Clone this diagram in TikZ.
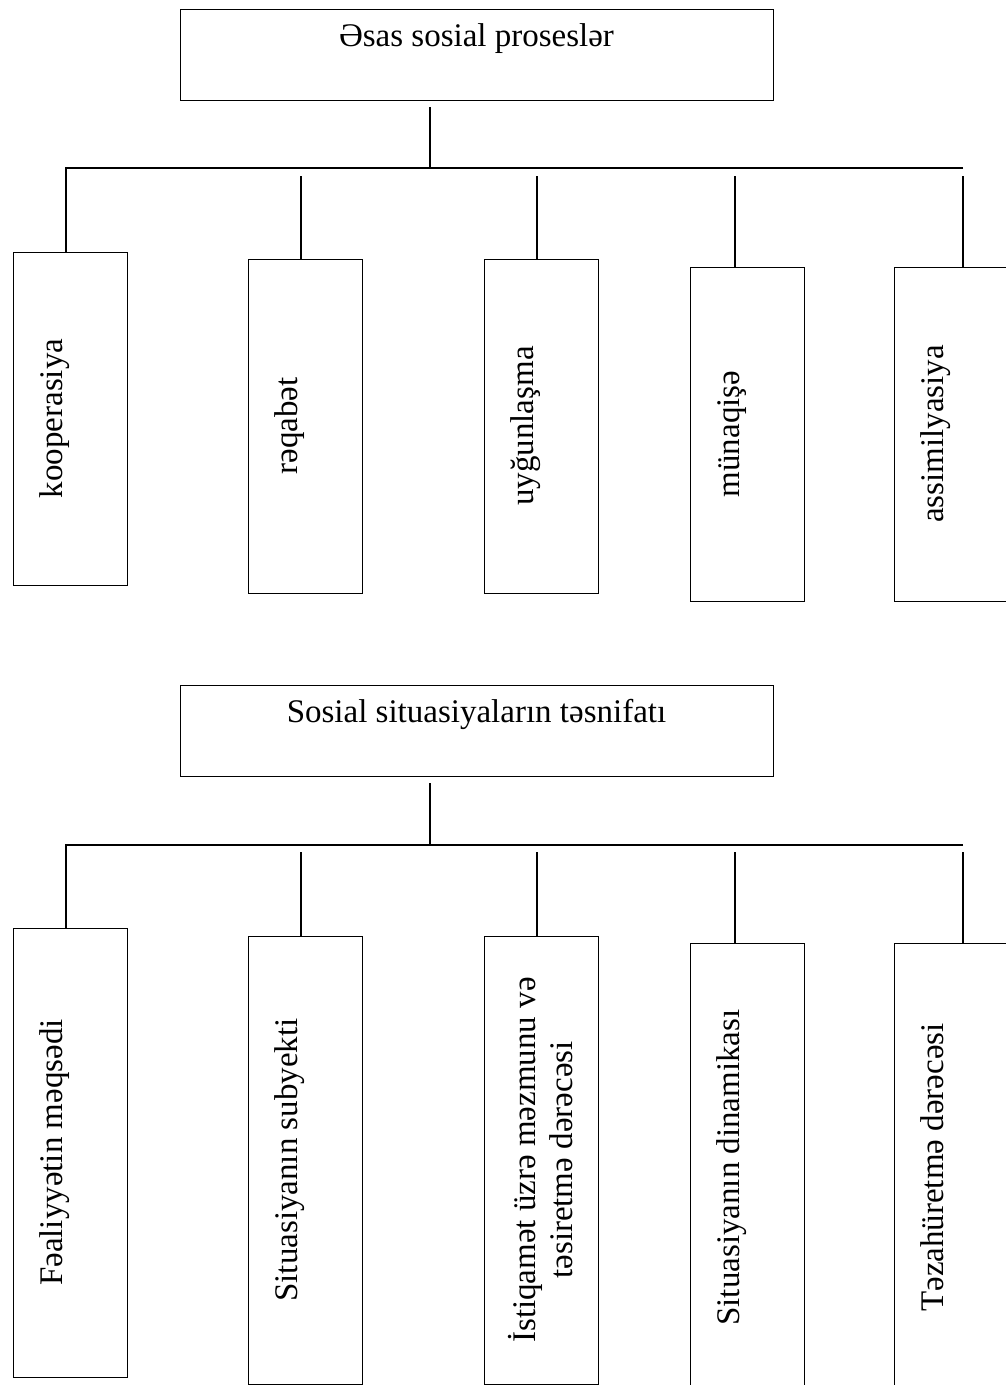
\documentclass[tikz,border=0pt]{standalone}
\usepackage{fontspec}
\setmainfont{Liberation Serif}
\begin{document}
\begin{tikzpicture}[x=1pt,y=-1pt,
  ln/.style={line width=1.2pt},
  box/.style={draw, line width=1.2pt, inner sep=0pt, minimum width=114pt, anchor=north west},
  headbox/.style={draw, line width=1.2pt, inner sep=0pt, minimum width=593pt, minimum height=91pt, anchor=north west},
  htext/.style={anchor=base, inner sep=0pt, font=\fontsize{33}{37}\selectfont},
  vtext/.style={rotate=90, anchor=base, inner sep=0pt, font=\fontsize{33}{37}\selectfont},
  vtwo/.style={rotate=90, anchor=north, inner sep=0pt, align=center, font=\fontsize{33}{37}\selectfont}]
\useasboundingbox (0,0) rectangle (1006,1385);
\clip (0,0) rectangle (1006,1385);

% ---------- upper diagram ----------
\node[headbox] (h1) at (180,9) {};
\node[htext] (h1t) at (476.5,46) {Əsas sosial proseslər};

\node[box, minimum height=333pt] (a1) at (13,252) {};
\node[box, minimum height=334pt] (a2) at (248,259) {};
\node[box, minimum height=334pt] (a3) at (484,259) {};
\node[box, minimum height=334pt] (a4) at (690,267) {};
\node[box, minimum height=334pt] (a5) at (894,267) {};

\node[vtext] (a1t) at (62,418.5) {kooperasiya};
\node[vtext] (a2t) at (297,426) {rəqabət};
\node[vtext] (a3t) at (533,426) {uyğunlaşma};
\node[vtext] (a4t) at (739,434) {münaqişə};
\node[vtext] (a5t) at (943,434) {assimilyasiya};

\coordinate (u0) at (430,107);
\coordinate (ub) at (430,168);
\coordinate (ul) at (66,168);
\coordinate (ur) at (963,168);
\coordinate (u2) at (301,176);
\coordinate (u3) at (537,176);
\coordinate (u4) at (735,176);
\coordinate (u5) at (963,176);

\draw[ln] (u0) -- (ub);
\draw[ln] (ur) -- (ul) -- (ul |- a1.north);
\draw[ln] (u2) -- (u2 |- a2.north);
\draw[ln] (u3) -- (u3 |- a3.north);
\draw[ln] (u4) -- (u4 |- a4.north);
\draw[ln] (u5) -- (u5 |- a5.north);

% ---------- lower diagram ----------
\node[headbox] (h2) at (180,685) {};
\node[htext] (h2t) at (476.5,722) {Sosial situasiyaların təsnifatı};

\node[box, minimum height=449pt] (b1) at (13,928) {};
\node[box, minimum height=448pt] (b2) at (248,936) {};
\node[box, minimum height=448pt] (b3) at (484,936) {};
\node[box, minimum height=449pt] (b4) at (690,943) {};
\node[box, minimum height=449pt] (b5) at (894,943) {};

\node[vtext] (b1t) at (62,1152.5) {Fəaliyyətin məqsədi};
\node[vtext] (b2t) at (297,1160) {Situasiyanın subyekti};
\node[vtwo] (b3t) at (504,1160) {\rule{0pt}{31pt}İstiqamət üzrə məzmunu və\\təsiretmə dərəcəsi};
\node[vtext] (b4t) at (739,1167.5) {Situasiyanın dinamikası};
\node[vtext] (b5t) at (943,1167.5) {Təzahüretmə dərəcəsi};

\coordinate (l0) at (430,783);
\coordinate (lb) at (430,845);
\coordinate (ll) at (66,845);
\coordinate (lr) at (963,845);
\coordinate (l2) at (301,852);
\coordinate (l3) at (537,852);
\coordinate (l4) at (735,852);
\coordinate (l5) at (963,852);

\draw[ln] (l0) -- (lb);
\draw[ln] (lr) -- (ll) -- (ll |- b1.north);
\draw[ln] (l2) -- (l2 |- b2.north);
\draw[ln] (l3) -- (l3 |- b3.north);
\draw[ln] (l4) -- (l4 |- b4.north);
\draw[ln] (l5) -- (l5 |- b5.north);
\end{tikzpicture}
\end{document}
